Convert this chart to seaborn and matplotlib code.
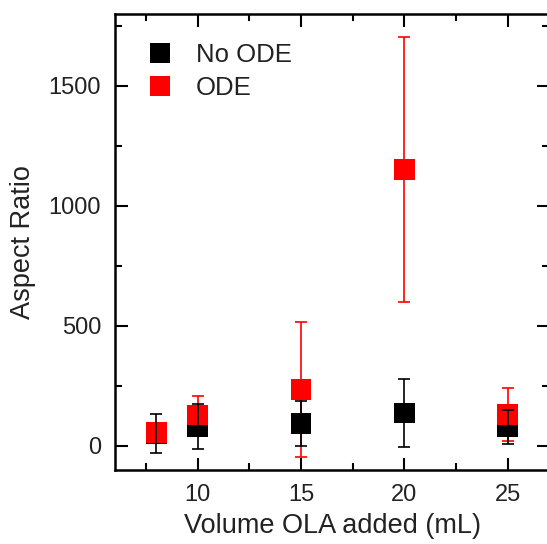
import numpy as np
import pandas as pd
import matplotlib
matplotlib.use('Agg')
import matplotlib.pyplot as plt
import seaborn as sns
from matplotlib.ticker import MultipleLocator

# values
volume = [8, 10, 15, 20, 25]
no_ode_mean = [52, 82, 94, 138, 80]
no_ode_err = [82, 93, 93, 141, 70]
ode_mean = [57, 130, 235, 1152, 131]
ode_err = [20, 78, 282, 552, 109]
series_names = ['No ODE', 'ODE']
colors = {'No ODE': '#000000', 'ODE': '#ff0000'}

sns.set_style("ticks")
plt.rcParams['font.family'] = ['Liberation Sans', 'DejaVu Sans']

df = pd.DataFrame({
    'volume': volume * 2,
    'ratio': no_ode_mean + ode_mean,
    'err': no_ode_err + ode_err,
    'series': [series_names[0]] * len(volume) + [series_names[1]] * len(volume),
})

fig = plt.figure(figsize=(5.47, 5.44), dpi=100)
ax = fig.add_axes([115 / 547, 74 / 544, 434 / 547, 456 / 544])

# red error bars under the squares, black ones on top
ode = df[df['series'] == 'ODE']
nod = df[df['series'] == 'No ODE']
ax.errorbar(ode['volume'], ode['ratio'], yerr=ode['err'], fmt='none',
            ecolor=colors['ODE'], elinewidth=1.2, capsize=4.5, capthick=1.2, zorder=1)
sns.scatterplot(data=df, x='volume', y='ratio', hue='series', palette=colors,
                hue_order=series_names, marker='s', s=215, linewidth=0,
                ax=ax, zorder=2)
ax.errorbar(nod['volume'], nod['ratio'], yerr=nod['err'], fmt='none',
            ecolor=colors['No ODE'], elinewidth=1.2, capsize=4.5, capthick=1.2, zorder=3)

ax.set_xlim(6, 27)
ax.set_ylim(-100, 1800)
ax.set_xticks([10, 15, 20, 25])
ax.set_yticks([0, 500, 1000, 1500])
ax.xaxis.set_minor_locator(MultipleLocator(2.5))
ax.yaxis.set_minor_locator(MultipleLocator(250))
ax.tick_params(which='both', direction='in', top=True, right=True, width=1.5,
               labelsize=17, pad=10, color='black', labelcolor='#222222')
ax.tick_params(which='major', length=9)
ax.tick_params(which='minor', length=5)
for spine in ['top', 'bottom', 'left', 'right']:
    ax.spines[spine].set_linewidth(1.8)
    ax.spines[spine].set_color('black')

ax.set_xlabel('Volume OLA added (mL)', fontsize=19.5, color='#222222', labelpad=5)
ax.set_ylabel('Aspect Ratio', fontsize=19.5, color='#222222', labelpad=9)

leg = ax.legend(loc='upper left', bbox_to_anchor=(-0.008, 0.988), frameon=False,
                fontsize=18.5, handletextpad=0.37, labelspacing=0.35,
                markerscale=1.0)
for t in leg.get_texts():
    t.set_color('#222222')

fig.savefig('out.png', dpi=100)
